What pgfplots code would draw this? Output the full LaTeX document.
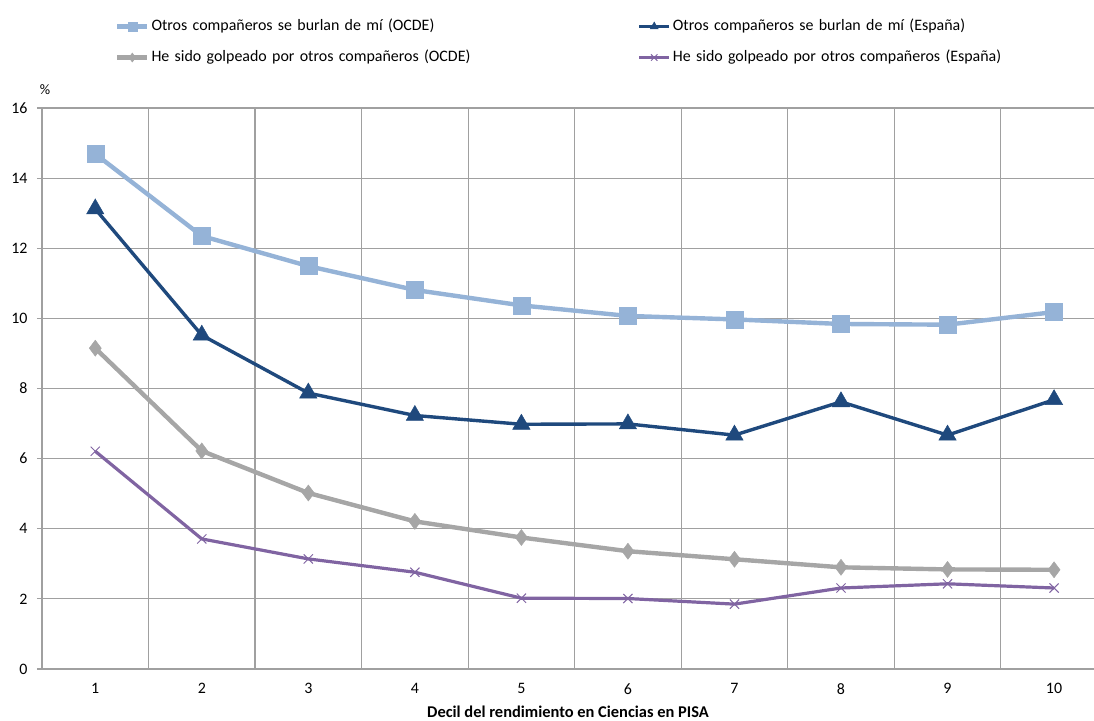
\documentclass[border=0pt]{standalone}
\usepackage{pgfplots}
\pgfplotsset{compat=1.18}
\usepackage{fontspec}
\setmainfont{Carlito}
\definecolor{cLB}{HTML}{95B3D7}
\definecolor{cDB}{HTML}{1F497D}
\definecolor{cGR}{HTML}{A6A6A6}
\definecolor{cPU}{HTML}{8064A2}
\definecolor{cGrid}{HTML}{A0A0A0}
\begin{document}
\begin{tikzpicture}
\begin{axis}[
  scale only axis,
  width=1052bp, height=561bp,
  xmin=0.5, xmax=10.375,
  ymin=0, ymax=16,
  xtick={1,...,10},
  minor xtick={1.5,2.5,...,9.5},
  ytick={0,2,...,16},
  xminorgrids, ymajorgrids,
  axis x line*=bottom, axis y line*=left,
  axis line style={cGrid, line width=1.4bp},
  grid style={cGrid, line width=1.2bp},
  minor grid style={cGrid, line width=1.2bp},
  major x tick style={draw=none},
  minor x tick style={draw=none},
  y tick style={cGrid, line width=1.2bp},
  tick align=outside,
  major tick length=5bp,
  tick label style={font=\fontsize{16}{19}\selectfont},
  /pgf/number format/assume math mode=true,
  xticklabel style={yshift=-6bp},
  yticklabel style={xshift=-6bp},
  xlabel={\bfseries Decil del rendimiento en Ciencias en PISA},
  xlabel style={font=\fontsize{16.5}{19}\selectfont, at={(rel axis cs:0.5,0)}, anchor=center, yshift=-43bp},
  ylabel={\%},
  ylabel style={font=\fontsize{14.5}{17}\selectfont, rotate=-90, at={(rel axis cs:0,1)}, anchor=center, xshift=3bp, yshift=18bp},
  legend columns=2,
  legend cell align=left,
  legend style={draw=none, fill=none, font=\fontsize{16}{19}\selectfont,
    at={(rel axis cs:0.0665,1.166)}, anchor=north west,
    nodes={text width=484bp, inner xsep=2bp, text height=11bp, text depth=4bp},
    /tikz/every odd column/.append style={column sep=0bp},
    row sep=12bp},
  legend image code/.code={\draw[mark repeat=2,mark phase=2] plot coordinates {(0bp,0bp)(15bp,0bp)(30bp,0bp)};},
  legend image post style={mark size=4.5bp},
]
\addplot[cLB, line width=4.4bp, mark=square*, mark size=8.5bp, mark options={solid, fill=cLB, draw=cLB, line width=0.5bp}]
  coordinates {(1,14.69)(2,12.35)(3,11.49)(4,10.81)(5,10.37)(6,10.07)(7,9.97)(8,9.84)(9,9.82)(10,10.18)};
\addlegendentry{Otros compañeros se burlan de mí (OCDE)}
\addplot[cDB, line width=3.4bp, mark=triangle*, mark size=10bp, mark options={solid, fill=cDB, draw=cDB, line width=0.5bp}]
  coordinates {(1,13.12)(2,9.52)(3,7.87)(4,7.23)(5,6.98)(6,6.99)(7,6.67)(8,7.62)(9,6.67)(10,7.68)};
\addlegendentry{Otros compañeros se burlan de mí (España)}
\addplot[cGR, line width=4.4bp, mark=diamond*, mark size=8bp, mark options={solid, fill=cGR, draw=cGR, line width=0.5bp}]
  coordinates {(1,9.15)(2,6.22)(3,5.02)(4,4.21)(5,3.75)(6,3.36)(7,3.13)(8,2.90)(9,2.84)(10,2.83)};
\addlegendentry{He sido golpeado por otros compañeros (OCDE)}
\addplot[cPU, line width=3.2bp, mark=x, mark size=6.5bp, mark options={solid, draw=cPU, line width=1bp}]
  coordinates {(1,6.21)(2,3.71)(3,3.14)(4,2.76)(5,2.02)(6,2.01)(7,1.85)(8,2.31)(9,2.43)(10,2.31)};
\addlegendentry{He sido golpeado por otros compañeros (España)}
\coordinate (BL) at (rel axis cs:-0.03992,-0.09091);
\coordinate (TR) at (rel axis cs:1,1.19251);
\end{axis}
\pgfresetboundingbox
\path (BL) rectangle (TR);
\end{tikzpicture}
\end{document}
